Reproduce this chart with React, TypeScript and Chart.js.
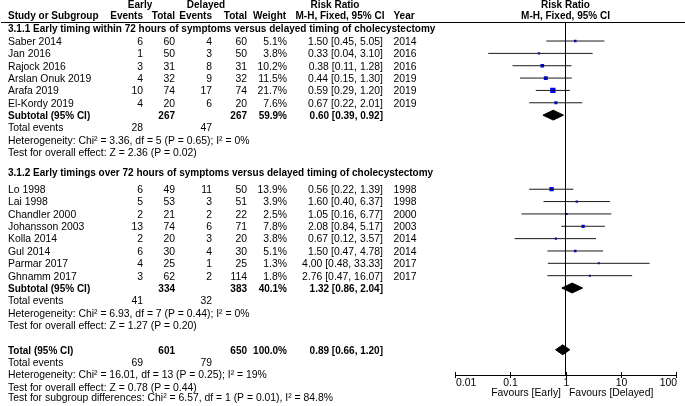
import React, { useEffect, useRef } from 'react';
import { Chart, registerables } from 'chart.js';

Chart.register(...registerables);

// ---------------- data ----------------
const groupTitles = [
  '3.1.1 Early timing within 72 hours of symptoms versus delayed timing of cholecystectomy',
  '3.1.2 Early timings over 72 hours of symptoms versus delayed timing of cholecystectomy',
];

const studies1 = ['Saber 2014', 'Jan 2016', 'Rajock 2016', 'Arslan Onuk 2019', 'Arafa 2019', 'El-Kordy 2019'];
const earlyEvents1 = [6, 1, 3, 4, 10, 4];
const earlyTotal1 = [60, 50, 31, 32, 74, 20];
const delayedEvents1 = [4, 3, 8, 9, 17, 6];
const delayedTotal1 = [60, 50, 31, 32, 74, 20];
const weights1 = [5.1, 3.8, 10.2, 11.5, 21.7, 7.6];
const rr1 = [1.5, 0.33, 0.38, 0.44, 0.59, 0.67];
const lo1 = [0.45, 0.04, 0.11, 0.15, 0.29, 0.22];
const hi1 = [5.05, 3.1, 1.28, 1.3, 1.2, 2.01];
const years1 = [2014, 2016, 2016, 2019, 2019, 2019];

const studies2 = ['Lo 1998', 'Lai 1998', 'Chandler 2000', 'Johansson 2003', 'Kolla 2014', 'Gul 2014', 'Parmar 2017', 'Ghnamm 2017'];
const earlyEvents2 = [6, 5, 2, 13, 2, 6, 4, 3];
const earlyTotal2 = [49, 53, 21, 74, 20, 30, 25, 62];
const delayedEvents2 = [11, 3, 2, 6, 3, 4, 1, 2];
const delayedTotal2 = [50, 51, 22, 71, 20, 30, 25, 114];
const weights2 = [13.9, 3.9, 2.5, 7.8, 3.8, 5.1, 1.3, 1.8];
const rr2 = [0.56, 1.6, 1.05, 2.08, 0.67, 1.5, 4.0, 2.76];
const lo2 = [0.22, 0.4, 0.16, 0.84, 0.12, 0.47, 0.48, 0.47];
const hi2 = [1.39, 6.37, 6.77, 5.17, 3.57, 4.78, 33.33, 16.07];
const years2 = [1998, 1998, 2000, 2003, 2014, 2014, 2017, 2017];

const subtotalWeights = [59.9, 40.1];
const subtotalRR = [0.6, 1.32];
const subtotalLo = [0.39, 0.86];
const subtotalHi = [0.92, 2.04];
const subtotalHet = [
  'Heterogeneity: Chi² = 3.36, df = 5 (P = 0.65); I² = 0%',
  'Heterogeneity: Chi² = 6.93, df = 7 (P = 0.44); I² = 0%',
];
const subtotalTest = [
  'Test for overall effect: Z = 2.36 (P = 0.02)',
  'Test for overall effect: Z = 1.27 (P = 0.20)',
];

const totalWeight = 100.0;
const totalRR = 0.89;
const totalLo = 0.66;
const totalHi = 1.2;
const totalHet = 'Heterogeneity: Chi² = 16.01, df = 13 (P = 0.25); I² = 19%';
const totalTest = 'Test for overall effect: Z = 0.78 (P = 0.44)';
const subgroupTest = 'Test for subgroup differences: Chi² = 6.57, df = 1 (P = 0.01), I² = 84.8%';

const axisTicks = [0.01, 0.1, 1, 10, 100];
const axisTickLabels = ['0.01', '0.1', '1', '10', '100'];
const favoursLeft = 'Favours [Early]';
const favoursRight = 'Favours [Delayed]';

// ---------------- layout ----------------
const W = 685;
const H = 406;
const PLOT_TOP = 22.5;
const PLOT_BOTTOM = 375;
const PLOT_LEFT = 455;
const PLOT_RIGHT = 676;
const ROW_H = 12.35;
const YMAX = (PLOT_BOTTOM - PLOT_TOP) / ROW_H;

const FONT_FAMILY = '"Liberation Sans", Arial, sans-serif';
const FONT_SIZE = 10.4;
const FONT_SIZE_BOLD = 10;
const TEXT_DY = 1;

const COL = {
  name: 8,
  ee: 143,
  et: 175,
  de: 212,
  dt: 247,
  w: 287,
  rr: 383,
  year: 393.5,
};

const groups = [
  {
    title: groupTitles[0], studies: studies1, ee: earlyEvents1, et: earlyTotal1, de: delayedEvents1, dt: delayedTotal1,
    w: weights1, rr: rr1, lo: lo1, hi: hi1, years: years1,
    titleRow: 0.5, firstRow: 1.5,
  },
  {
    title: groupTitles[1], studies: studies2, ee: earlyEvents2, et: earlyTotal2, de: delayedEvents2, dt: delayedTotal2,
    w: weights2, rr: rr2, lo: lo2, hi: hi2, years: years2,
    titleRow: 12.1, firstRow: 13.5,
  },
];
const TOTAL_ROW = 26.5;

const sum = (a: number[]) => a.reduce((s, v) => s + v, 0);
const f2 = (v: number) => v.toFixed(2);
const ciText = (r: number, l: number, h: number) => `${f2(r)} [${f2(l)}, ${f2(h)}]`;
const DIAMOND_HALF = 0.4;

function diamond(r: number, l: number, h: number, row: number) {
  return [
    { x: l, y: row },
    { x: r, y: row - DIAMOND_HALF },
    { x: h, y: row },
    { x: r, y: row + DIAMOND_HALF },
    { x: l, y: row },
  ];
}

export default function App() {
  const ref = useRef<HTMLCanvasElement>(null);

  useEffect(() => {
    const canvas = ref.current;
    if (!canvas) return;

    const datasets: any[] = [];
    // reference line at RR = 1
    datasets.push({
      data: [{ x: 1, y: 0 }, { x: 1, y: YMAX }],
      showLine: true, borderColor: '#000', borderWidth: 1, pointRadius: 0, fill: false,
    });

    const squarePts: any[] = [];
    const squareRadius: number[] = [];
    groups.forEach((g) => {
      g.studies.forEach((_, i) => {
        const row = g.firstRow + i;
        datasets.push({
          data: [{ x: g.lo[i], y: row }, { x: g.hi[i], y: row }],
          showLine: true, borderColor: '#1a1a1a', borderWidth: 1, pointRadius: 0, fill: false,
        });
        squarePts.push({ x: g.rr[i], y: row });
        const side = Math.max(2, 1.15 * Math.sqrt(g.w[i]));
        squareRadius.push(side / Math.SQRT2);
      });
    });
    datasets.push({
      data: squarePts,
      showLine: false,
      pointStyle: 'rect',
      pointRadius: squareRadius,
      pointBackgroundColor: '#0000ff',
      pointBorderWidth: 0,
      pointBorderColor: '#0000ff',
    });

    groups.forEach((g, gi) => {
      const row = g.firstRow + g.studies.length;
      datasets.push({
        data: diamond(subtotalRR[gi], subtotalLo[gi], subtotalHi[gi], row),
        showLine: true, borderColor: '#000', borderWidth: 1, backgroundColor: '#000',
        pointRadius: 0, fill: 'shape', tension: 0,
      });
    });
    datasets.push({
      data: diamond(totalRR, totalLo, totalHi, TOTAL_ROW),
      showLine: true, borderColor: '#000', borderWidth: 1, backgroundColor: '#000',
      pointRadius: 0, fill: 'shape', tension: 0,
    });

    const textPlugin = {
      id: 'forestText',
      afterDraw(chart: any) {
        const ctx: CanvasRenderingContext2D = chart.ctx;
        const xs = chart.scales.x;
        const ys = chart.scales.y;
        const Y = (r: number) => ys.getPixelForValue(r) + TEXT_DY;
        const put = (s: string, x: number, y: number, align: CanvasTextAlign, bold = false) => {
          ctx.font = `${bold ? 'bold ' : ''}${bold ? FONT_SIZE_BOLD : FONT_SIZE}px ${FONT_FAMILY}`;
          ctx.textAlign = align;
          ctx.textBaseline = 'middle';
          ctx.fillStyle = '#000';
          ctx.fillText(s, x, y);
        };
        ctx.save();

        // header
        const x1 = xs.getPixelForValue(1);
        put('Early', 140, 5, 'center', true);
        put('Delayed', 206, 5, 'center', true);
        put('Risk Ratio', 335, 5, 'center', true);
        put('Risk Ratio', x1, 5, 'center', true);
        put('Study or Subgroup', COL.name, 16.5, 'left', true);
        put('Events', COL.ee, 16.5, 'right', true);
        put('Total', COL.et, 16.5, 'right', true);
        put('Events', COL.de, 16.5, 'right', true);
        put('Total', COL.dt, 16.5, 'right', true);
        put('Weight', 253, 16.5, 'left', true);
        put('M-H, Fixed, 95% CI', 295.5, 16.5, 'left', true);
        put('Year', COL.year, 16.5, 'left', true);
        put('M-H, Fixed, 95% CI', x1, 16.5, 'center', true);
        ctx.fillStyle = '#000';
        ctx.fillRect(1, Math.round(PLOT_TOP) - 1, W - 1, 1);

        groups.forEach((g, gi) => {
          put(g.title, COL.name, Y(g.titleRow), 'left', true);
          g.studies.forEach((name, i) => {
            const y = Y(g.firstRow + i);
            put(name, COL.name, y, 'left');
            put(String(g.ee[i]), COL.ee, y, 'right');
            put(String(g.et[i]), COL.et, y, 'right');
            put(String(g.de[i]), COL.de, y, 'right');
            put(String(g.dt[i]), COL.dt, y, 'right');
            put(`${g.w[i].toFixed(1)}%`, COL.w, y, 'right');
            put(ciText(g.rr[i], g.lo[i], g.hi[i]), COL.rr, y, 'right');
            put(String(g.years[i]), COL.year, y, 'left');
          });
          const sr = g.firstRow + g.studies.length;
          put('Subtotal (95% CI)', COL.name, Y(sr), 'left', true);
          put(String(sum(g.et)), COL.et, Y(sr), 'right', true);
          put(String(sum(g.dt)), COL.dt, Y(sr), 'right', true);
          put(`${subtotalWeights[gi].toFixed(1)}%`, COL.w, Y(sr), 'right', true);
          put(ciText(subtotalRR[gi], subtotalLo[gi], subtotalHi[gi]), COL.rr, Y(sr), 'right', true);
          put('Total events', COL.name, Y(sr + 1), 'left');
          put(String(sum(g.ee)), COL.ee, Y(sr + 1), 'right');
          put(String(sum(g.de)), COL.de, Y(sr + 1), 'right');
          put(subtotalHet[gi], COL.name, Y(sr + 2), 'left');
          put(subtotalTest[gi], COL.name, Y(sr + 3), 'left');
        });

        const allEt = sum(groups.map((g) => sum(g.et)));
        const allDt = sum(groups.map((g) => sum(g.dt)));
        const allEe = sum(groups.map((g) => sum(g.ee)));
        const allDe = sum(groups.map((g) => sum(g.de)));
        put('Total (95% CI)', COL.name, Y(TOTAL_ROW), 'left', true);
        put(String(allEt), COL.et, Y(TOTAL_ROW), 'right', true);
        put(String(allDt), COL.dt, Y(TOTAL_ROW), 'right', true);
        put(`${totalWeight.toFixed(1)}%`, COL.w, Y(TOTAL_ROW), 'right', true);
        put(ciText(totalRR, totalLo, totalHi), COL.rr, Y(TOTAL_ROW), 'right', true);
        put('Total events', COL.name, Y(TOTAL_ROW + 1), 'left');
        put(String(allEe), COL.ee, Y(TOTAL_ROW + 1), 'right');
        put(String(allDe), COL.de, Y(TOTAL_ROW + 1), 'right');
        put(totalHet, COL.name, Y(TOTAL_ROW + 2), 'left');
        put(totalTest, COL.name, Y(TOTAL_ROW + 3), 'left');
        put(subgroupTest, COL.name, Y(TOTAL_ROW + 3.8), 'left');

        // x axis
        const ay = Math.round(ys.getPixelForValue(YMAX));
        const ax0 = xs.getPixelForValue(axisTicks[0]);
        const ax1 = xs.getPixelForValue(axisTicks[axisTicks.length - 1]);
        ctx.fillStyle = '#000';
        ctx.fillRect(Math.round(ax0), ay, Math.round(ax1) - Math.round(ax0) + 1, 1);
        axisTicks.forEach((t, i) => {
          const px = Math.round(xs.getPixelForValue(t));
          ctx.fillRect(px, ay - 3, 1, 6);
          const align: CanvasTextAlign = i === 0 ? 'left' : i === axisTicks.length - 1 ? 'right' : 'center';
          const lx = i === 0 ? px + 1 : i === axisTicks.length - 1 ? px + 1 : px + 0.5;
          put(axisTickLabels[i], lx, ay + 8.5, align);
        });
        put(favoursLeft, x1 - 4.5, ay + 18, 'right');
        put(favoursRight, x1 + 3.5, ay + 18, 'left');

        ctx.restore();
      },
    };

    const chart = new Chart(canvas, {
      type: 'scatter',
      data: { datasets },
      options: {
        animation: false,
        responsive: false,
        maintainAspectRatio: false,
        devicePixelRatio: 1,
        layout: {
          padding: { left: PLOT_LEFT, right: W - PLOT_RIGHT, top: PLOT_TOP, bottom: H - PLOT_BOTTOM },
        },
        plugins: { legend: { display: false }, tooltip: { enabled: false } },
        scales: {
          x: { type: 'logarithmic', min: 0.01, max: 100, display: false },
          y: { type: 'linear', min: 0, max: YMAX, reverse: true, display: false },
        },
      },
      plugins: [textPlugin],
    } as any);

    return () => chart.destroy();
  }, []);

  return (
    <div style={{ position: 'fixed', left: 0, top: 0, width: W, height: H, background: '#fff' }}>
      <canvas ref={ref} width={W} height={H} style={{ display: 'block', width: W, height: H }} />
    </div>
  );
}
